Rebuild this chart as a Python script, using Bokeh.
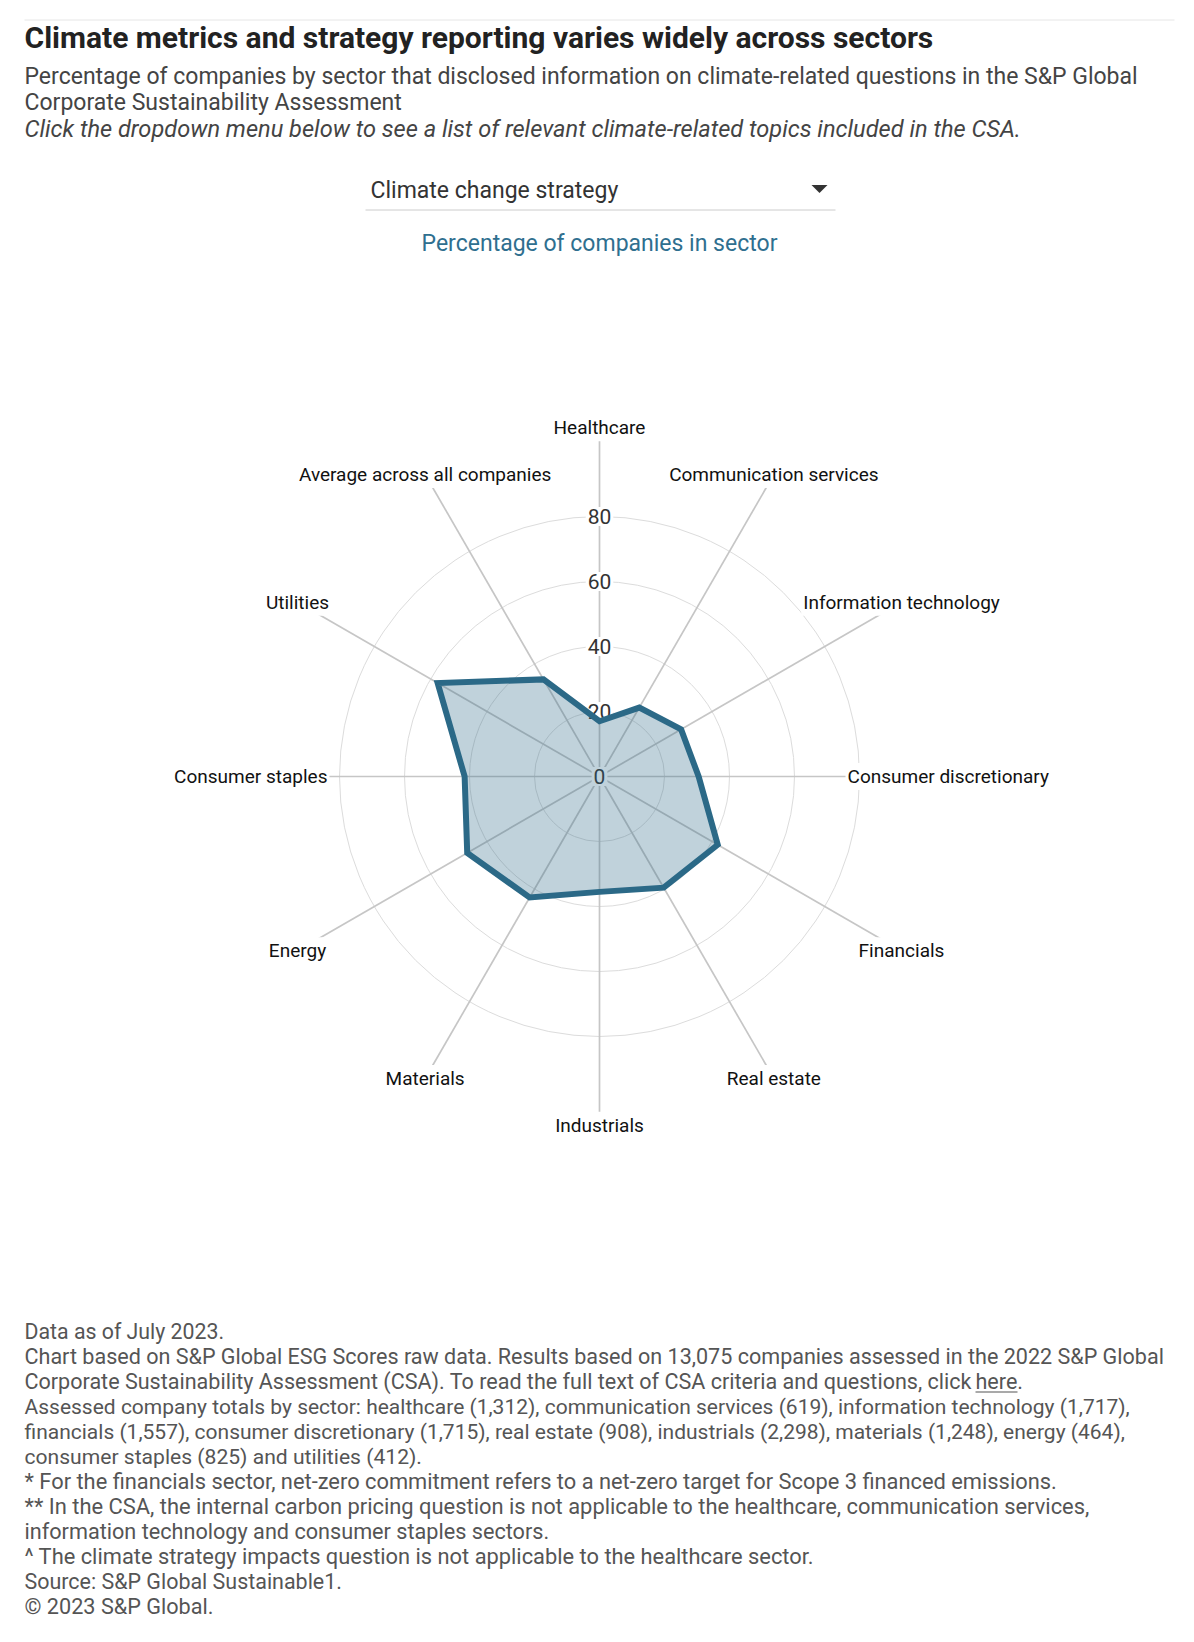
import math
from bokeh.plotting import figure
from bokeh.models import Range1d
from bokeh.core.properties import value
from bokeh.embed import file_html
from bokeh.resources import INLINE

# ---------------- data ----------------
categories = ["Healthcare", "Communication services", "Information technology",
              "Consumer discretionary", "Financials", "Real estate", "Industrials",
              "Materials", "Energy", "Consumer staples", "Utilities",
              "Average across all companies"]
pct_values = [17, 24.5, 29, 30.5, 42, 39.5, 35.5, 43, 47, 41.5, 57.5, 34.5]
ring_ticks = [20, 40, 60, 80]
tick_labels = ["0", "20", "40", "60", "80"]

title = "Climate metrics and strategy reporting varies widely across sectors"
subtitle_lines = ["Percentage of companies by sector that disclosed information on climate-related questions in the S&P Global",
                  "Corporate Sustainability Assessment"]
subtitle_italic = "Click the dropdown menu below to see a list of relevant climate-related topics included in the CSA."
dropdown_text = "Climate change strategy"
series_title = "Percentage of companies in sector"
footer_lines = [
    "Data as of July 2023.",
    "Chart based on S&P Global ESG Scores raw data. Results based on 13,075 companies assessed in the 2022 S&P Global",
    "Corporate Sustainability Assessment (CSA). To read the full text of CSA criteria and questions, click",
    "Assessed company totals by sector: healthcare (1,312), communication services (619), information technology (1,717),",
    "financials (1,557), consumer discretionary (1,715), real estate (908), industrials (2,298), materials (1,248), energy (464),",
    "consumer staples (825) and utilities (412).",
    "* For the financials sector, net-zero commitment refers to a net-zero target for Scope 3 financed emissions.",
    "** In the CSA, the internal carbon pricing question is not applicable to the healthcare, communication services,",
    "information technology and consumer staples sectors.",
    "^ The climate strategy impacts question is not applicable to the healthcare sector.",
    "Source: S&P Global Sustainable1.",
    "\u00a9 2023 S&P Global.",
]
link_text = "here"

# ---------------- layout / style ----------------
W, H = 1176, 1630
FONT = value("Roboto")
CX, CY = 599, 776          # radar centre (page px)
K = 3.25                   # px per percentage point
SPOKE_R = 103.4
LABEL_R = 107.3
footer_sizes = [21.3, 21.55, 21.55, 21.0, 21.0, 21.1, 21.85, 21.9, 21.65, 21.85, 21.45, 21.65]

p = figure(width=W, height=H, x_range=Range1d(0, W), y_range=Range1d(H, 0),
           output_backend="svg", toolbar_location=None, min_border=0,
           x_axis_type=None, y_axis_type=None)
p.grid.visible = False
p.outline_line_color = None
p.background_fill_color = "white"
p.border_fill_color = "white"

# top rule
p.segment(x0=[24], y0=[19.5], x1=[1174], y1=[19.5], line_color="#e6e6e6", line_width=1)

# title block
p.text(x=[24], y=[36.5], text=[title], text_font=FONT, text_font_style="bold",
       text_font_size="30px", text_color="#222222", text_baseline="alphabetic")
p.text(x=[24, 24], y=[75.6, 102.4], text=subtitle_lines, text_font=FONT,
       text_font_size="23px", text_color="#444444", text_baseline="alphabetic")
p.text(x=[24], y=[128.8], text=[subtitle_italic], text_font=FONT, text_font_style="italic",
       text_font_size="23.6px", text_color="#444444", text_baseline="alphabetic")

# dropdown
p.text(x=[370], y=[189.6], text=[dropdown_text], text_font=FONT,
       text_font_size="23px", text_color="#333333", text_baseline="alphabetic")
tri_cx, tri_cy, tri_w, tri_h = 819, 188.5, 16, 8
p.patch(x=[tri_cx - tri_w / 2, tri_cx + tri_w / 2, tri_cx],
        y=[tri_cy - tri_h / 2, tri_cy - tri_h / 2, tri_cy + tri_h / 2],
        fill_color="#333333", line_color=None)
p.segment(x0=[365], y0=[209.5], x1=[835], y1=[209.5], line_color="#cccccc", line_width=1)

p.text(x=[CX], y=[242.6], text=[series_title], text_font=FONT, text_align="center",
       text_font_size="23px", text_color="#2f6f8f", text_baseline="alphabetic")

# ---------------- radar ----------------
n = len(categories)
angles = [2 * math.pi * i / n for i in range(n)]

# rings
p.circle(x=[CX] * len(ring_ticks), y=[CY] * len(ring_ticks),
         radius=[t * K for t in ring_ticks], fill_color=None,
         line_color="#dcdcdc", line_width=1)

# spokes
p.segment(x0=[CX] * n, y0=[CY] * n,
          x1=[CX + SPOKE_R * K * math.sin(a) for a in angles],
          y1=[CY - SPOKE_R * K * math.cos(a) for a in angles],
          line_color="#c6c6c6", line_width=1.7)

# tick labels
tick_vals = [0] + ring_ticks
p.text(x=[CX] * len(tick_vals), y=[CY - t * K for t in tick_vals], text=tick_labels,
       text_font=FONT, text_font_size="21px", text_color="#333333",
       text_align="center", text_baseline="middle",
       background_fill_color="white", padding=2)

# category labels
p.text(x=[CX + LABEL_R * K * math.sin(a) for a in angles],
       y=[CY - LABEL_R * K * math.cos(a) for a in angles],
       text=categories, text_font=FONT, text_font_size="19px", text_color="#111111",
       text_align="center", text_baseline="middle",
       background_fill_color="white", padding=2)

# data polygon
px = [CX + v * K * math.sin(a) for v, a in zip(pct_values, angles)]
py = [CY - v * K * math.cos(a) for v, a in zip(pct_values, angles)]
p.patch(x=px, y=py, fill_color="#2d6a89", fill_alpha=0.3,
        line_color="#2b6987", line_width=6, line_join="miter")

# ---------------- footer ----------------
F0, FD = 1331, 25
p.text(x=[24] * len(footer_lines), y=[F0 + FD * i for i in range(len(footer_lines))],
       text=footer_lines, text_font=FONT, text_font_size=[f"{s}px" for s in footer_sizes],
       text_color="#555555", text_baseline="alphabetic")
# "here." link on line 3
link_x, link_w = 975, 42
p.text(x=[link_x], y=[F0 + 2 * FD], text=[link_text + "."], text_font=FONT,
       text_font_size="21.55px", text_color="#555555", text_baseline="alphabetic")
p.segment(x0=[link_x], y0=[F0 + 2 * FD + 10.5], x1=[link_x + link_w], y1=[F0 + 2 * FD + 10.5],
          line_color="#555555", line_width=1.2)

open("out.html", "w").write(file_html(p, INLINE))
